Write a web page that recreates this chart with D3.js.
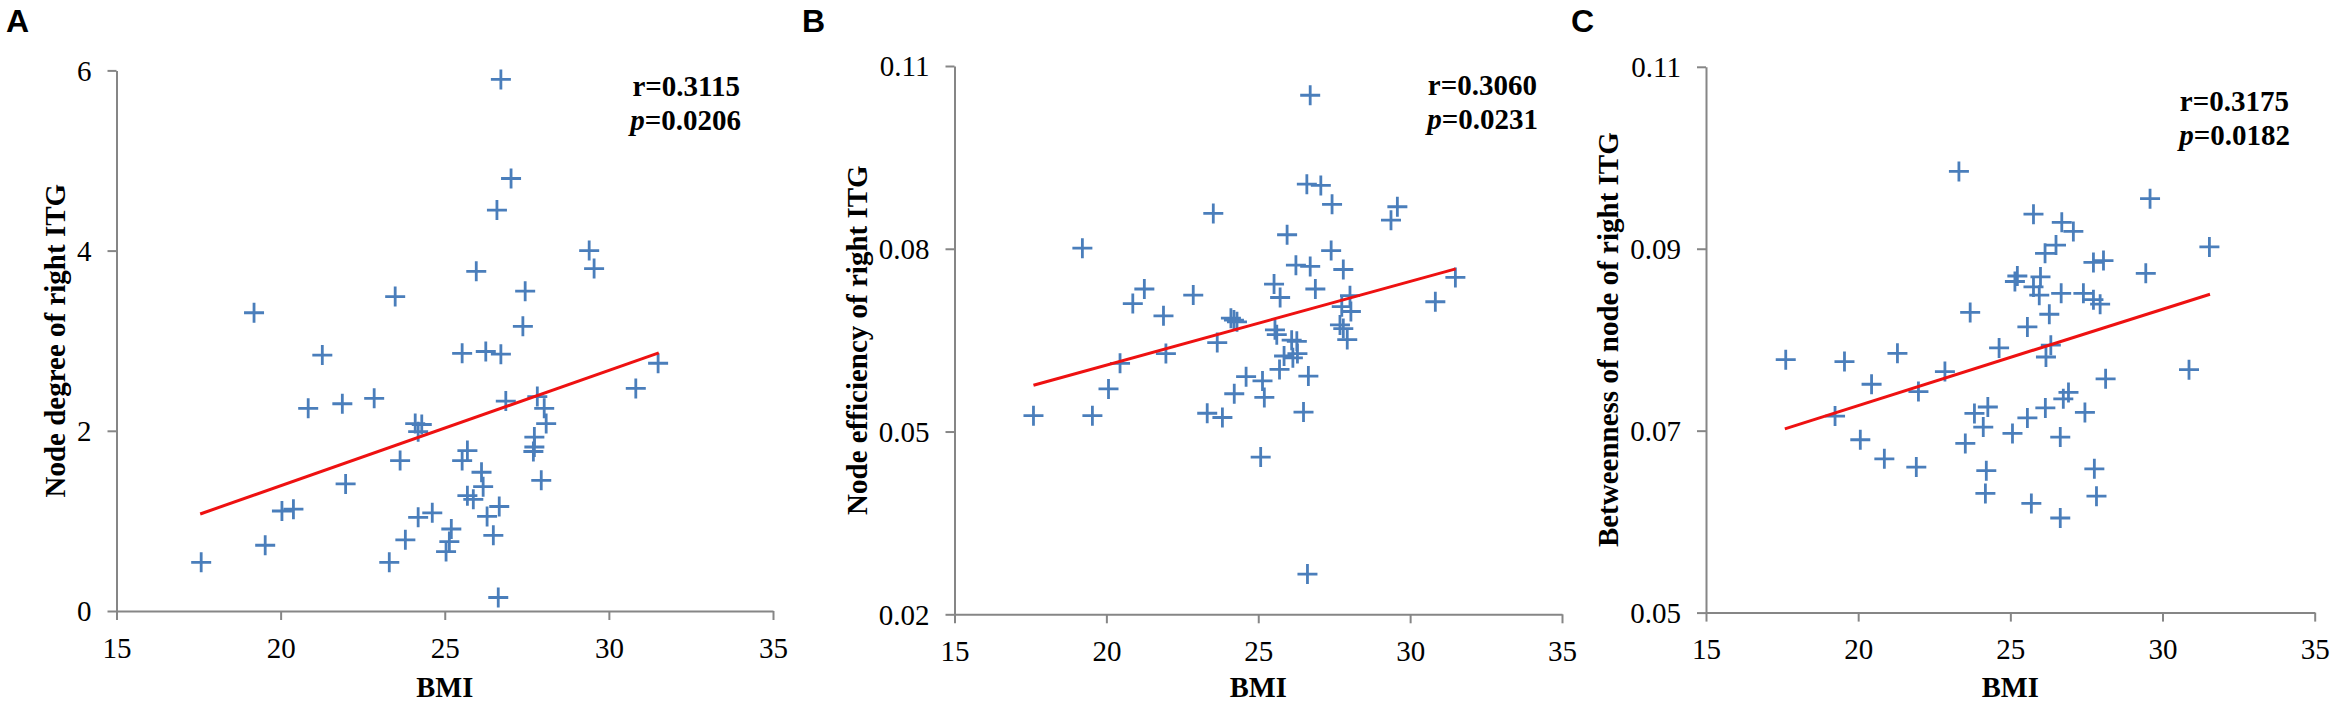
<!DOCTYPE html>
<html>
<head>
<meta charset="utf-8">
<script src="https://cdn.jsdelivr.net/npm/d3@7"></script>
<style>
html,body{margin:0;padding:0;background:#fff;}
svg{display:block;}
</style>
</head>
<body>
<svg id="chart" width="2331" height="703"></svg>
<script>
// ---------- DATA ----------
const xTicks = [15, 20, 25, 30, 35];

const bmiA = [26.71,27.02,26.59,29.40,29.55,25.96,23.49,27.45,19.19,27.38,21.27,25.53,26.25,26.71,31.50,30.82,20.84,21.88,22.85,26.86,27.82,28.03,28.09,24.10,24.30,24.19,27.73,27.73,27.70,23.64,25.69,25.53,26.12,27.94,21.98,26.17,25.69,25.87,26.66,20.04,20.39,24.62,24.19,26.29,25.20,26.48,25.14,25.04,23.80,19.53,17.58,23.31,26.63];
const degreeA = [5.90,4.80,4.45,4.00,3.80,3.77,3.49,3.55,3.31,3.16,2.84,2.86,2.88,2.85,2.75,2.47,2.25,2.30,2.36,2.33,2.38,2.25,2.08,2.08,2.07,1.99,1.93,1.82,1.77,1.67,1.78,1.67,1.54,1.45,1.41,1.38,1.28,1.24,1.16,1.11,1.13,1.09,1.04,1.05,0.91,0.84,0.77,0.66,0.79,0.73,0.54,0.54,0.15];
const yTicksA = [0, 2, 4, 6];
const fitA = [[17.55, 1.077], [31.52, 2.864]];

const bmiB = [26.71,26.60,27.06,27.43,23.52,29.58,29.37,25.95,19.21,27.40,26.24,26.71,27.80,31.49,25.52,26.88,21.25,22.86,25.72,20.87,30.83,28.02,27.75,28.05,21.88,24.10,24.20,24.30,27.69,27.80,25.55,25.61,26.10,26.27,27.93,23.65,21.96,20.45,25.85,26.29,26.14,25.70,24.60,25.14,26.65,20.07,24.21,25.20,17.60,19.54,23.32,23.82,26.49,25.08,26.62];
const efficiencyB = [0.1052,0.0906,0.0904,0.0873,0.0858,0.0869,0.0847,0.0823,0.0801,0.0797,0.0773,0.0771,0.0766,0.0753,0.0742,0.0734,0.0734,0.0724,0.0720,0.0710,0.0713,0.0723,0.0705,0.0697,0.0690,0.0686,0.0683,0.0680,0.0675,0.0669,0.0667,0.0659,0.0650,0.0648,0.0651,0.0646,0.0628,0.0612,0.0624,0.0628,0.0621,0.0602,0.0590,0.0583,0.0591,0.0570,0.0562,0.0556,0.0526,0.0526,0.0530,0.0523,0.0532,0.0458,0.0266];
const yTicksB = [0.02, 0.05, 0.08, 0.11];
const fitB = [[17.6, 0.0576], [31.5, 0.0767]];

const bmiC = [23.31,29.59,25.76,26.69,27.07,26.50,26.14,31.54,27.73,28.06,29.45,25.23,25.15,25.99,25.76,25.95,26.67,27.40,27.73,27.95,23.68,26.28,25.56,24.63,26.33,26.17,17.62,19.55,21.29,22.85,30.87,28.13,20.44,21.98,26.91,26.74,19.24,23.82,24.26,24.11,26.15,25.56,27.45,25.07,23.52,26.64,20.07,20.86,21.91,24.21,27.76,24.18,27.83,25.69,26.64];
const betweennessC = [0.0985,0.0955,0.0938,0.0929,0.0919,0.0904,0.0895,0.0902,0.0885,0.0887,0.0873,0.0870,0.0864,0.0869,0.0858,0.0849,0.0851,0.0851,0.0844,0.0839,0.0830,0.0828,0.0814,0.0791,0.0794,0.0781,0.0778,0.0776,0.0785,0.0765,0.0767,0.0757,0.0751,0.0743,0.0742,0.0735,0.0716,0.0719,0.0726,0.0704,0.0725,0.0714,0.0720,0.0697,0.0686,0.0693,0.0690,0.0669,0.0660,0.0656,0.0658,0.0631,0.0628,0.0620,0.0604];
const yTicksC = [0.05, 0.07, 0.09, 0.11];
const fitC = [[17.59, 0.0702], [31.56, 0.0850]];

const panelLetters = ["A", "B", "C"];
const yTitles = ["Node degree of right ITG", "Node efficiency of right ITG", "Betweenness of node of right ITG"];
const rTexts = ["0.3115", "0.3060", "0.3175"];
const pTexts = ["0.0206", "0.0231", "0.0182"];
const xTitle = "BMI";

// ---------- DRAW ----------
const svg = d3.select("#chart");
const axisColor = "#868686";
const markColor = "#4a7ebb";
const serif = "'Liberation Serif','Times New Roman',serif";

const panels = [
  {xs: bmiA, ys: degreeA, yTicks: yTicksA, fit: fitA, fmt: d3.format("d"),
   x0: 116.5, x1: 773, y0: 611, y1: 70.4, letterX: 6, titleX: 65, annX: 740, annY: 96},
  {xs: bmiB, ys: efficiencyB, yTicks: yTicksB, fit: fitB, fmt: d3.format(".2f"),
   x0: 954.5, x1: 1562, y0: 614.3, y1: 66, letterX: 802, titleX: 867, annX: 1537, annY: 95},
  {xs: bmiC, ys: betweennessC, yTicks: yTicksC, fit: fitC, fmt: d3.format(".2f"),
   x0: 1706, x1: 2314.7, y0: 612.6, y1: 66.8, letterX: 1571, titleX: 1618, annX: 2289, annY: 111}
];

panels.forEach((p, i) => {
  const x = d3.scaleLinear().domain([15, 35]).range([p.x0, p.x1]);
  const y = d3.scaleLinear().domain(d3.extent(p.yTicks)).range([p.y0, p.y1]);
  const g = svg.append("g");

  // x axis
  const xa = g.append("g").attr("transform", `translate(0,${p.y0})`)
    .call(d3.axisBottom(x).tickValues(xTicks).tickSize(9).tickSizeOuter(0).tickPadding(17).tickFormat(d3.format("d")));
  // y axis
  const ya = g.append("g").attr("transform", `translate(${p.x0},0)`)
    .call(d3.axisLeft(y).tickValues(p.yTicks).tickSize(9).tickSizeOuter(0).tickPadding(16).tickFormat(p.fmt));
  [xa, ya].forEach(a => {
    a.select(".domain").attr("stroke", axisColor).attr("stroke-width", 2);
    a.selectAll(".tick line").attr("stroke", axisColor).attr("stroke-width", 2);
    a.selectAll(".tick text").attr("fill", "#000").style("font-family", serif).style("font-size", "29px");
  });
  xa.selectAll(".tick text").attr("dy", "0.71em");
  ya.selectAll(".tick text").attr("dy", "0.34em");

  // markers
  const pts = p.xs.map((v, k) => [v, p.ys[k]]);
  g.append("g").selectAll("path").data(pts).enter().append("path")
    .attr("d", "M-10,0H10M0,-10V10")
    .attr("transform", d => `translate(${x(d[0])},${y(d[1])})`)
    .attr("stroke", markColor).attr("stroke-width", 2.8).attr("fill", "none");

  // fit line
  g.append("path").datum(p.fit)
    .attr("d", d3.line().x(d => x(d[0])).y(d => y(d[1])))
    .attr("stroke", "#ee1111").attr("stroke-width", 3).attr("fill", "none");

  // panel letter
  g.append("text").attr("x", p.letterX).attr("y", 32)
    .style("font-family", "'Liberation Sans',Arial,sans-serif").style("font-weight", "bold").style("font-size", "32px")
    .text(panelLetters[i]);

  // y title
  g.append("text").attr("transform", `translate(${p.titleX},${(p.y0 + p.y1) / 2 + 0}) rotate(-90)`)
    .attr("text-anchor", "middle")
    .style("font-family", serif).style("font-weight", "bold").style("font-size", "29px")
    .text(yTitles[i]);

  // x title
  g.append("text").attr("x", (p.x0 + p.x1) / 2).attr("y", 697).attr("text-anchor", "middle")
    .style("font-family", serif).style("font-weight", "bold").style("font-size", "28.5px")
    .text(xTitle);

  // annotation
  const t1 = g.append("text").attr("x", p.annX).attr("y", p.annY).attr("text-anchor", "end")
    .style("font-family", serif).style("font-weight", "bold").style("font-size", "29px");
  t1.append("tspan").text("r=" + rTexts[i]);
  const t2 = g.append("text").attr("x", p.annX + 1).attr("y", p.annY + 34).attr("text-anchor", "end")
    .style("font-family", serif).style("font-weight", "bold").style("font-size", "29px");
  t2.append("tspan").style("font-style", "italic").text("p");
  t2.append("tspan").text("=" + pTexts[i]);
});
</script>
</body>
</html>
